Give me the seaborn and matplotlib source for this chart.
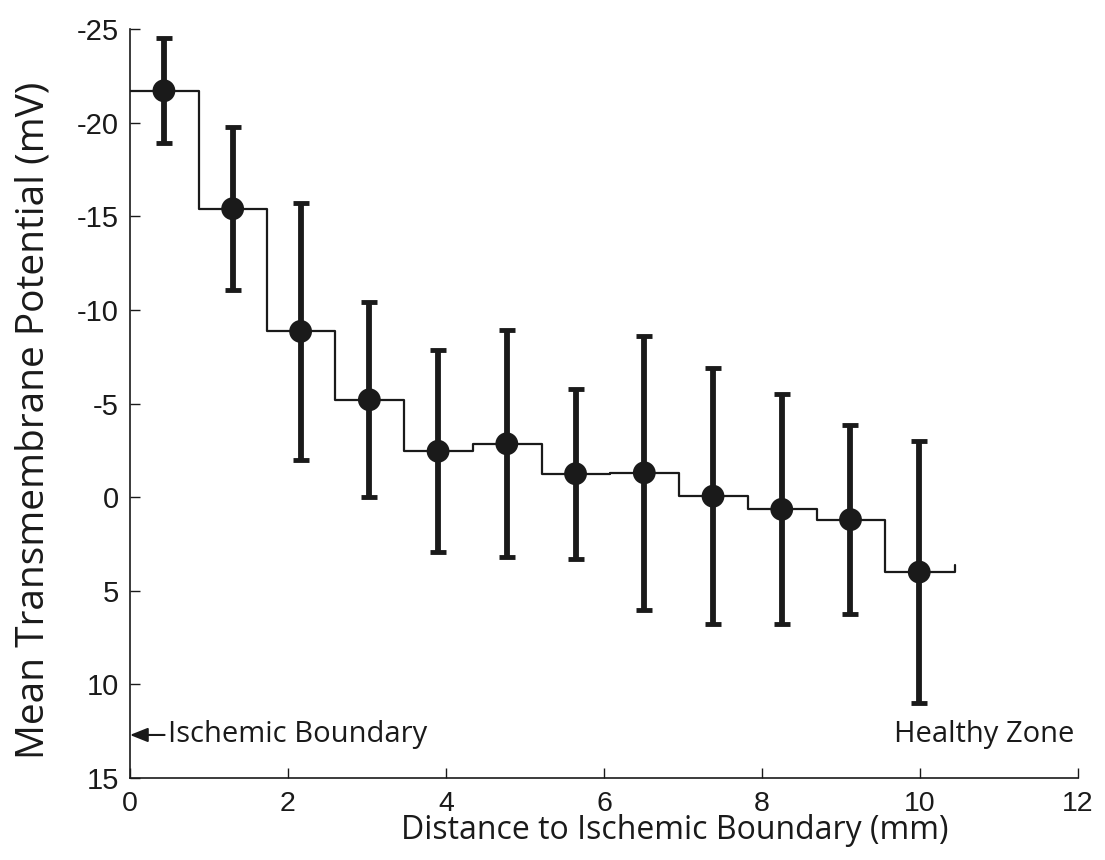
import numpy as np
import pandas as pd
import matplotlib
matplotlib.use("Agg")
import matplotlib.pyplot as plt
import seaborn as sns

# distance bins (mm) and mean transmembrane potential (mV) +/- sd
bin_edges = [0.0, 0.87, 1.73, 2.60, 3.47, 4.34, 5.21, 6.08, 6.95, 7.82, 8.69, 9.56, 10.44]
distance = [0.43, 1.30, 2.16, 3.03, 3.90, 4.77, 5.64, 6.51, 7.38, 8.25, 9.12, 9.99]
mean_tmp = [-21.7, -15.4, -8.85, -5.2, -2.45, -2.85, -1.25, -1.3, -0.05, 0.65, 1.2, 4.0]
sd_tmp = [2.8, 4.35, 6.85, 5.2, 5.4, 6.05, 4.55, 7.3, 6.85, 6.15, 5.05, 7.0]
end_level = 3.6  # little upturn at the end of the stair line

x_ticks = [0, 2, 4, 6, 8, 10, 12]
y_ticks = [-25, -20, -15, -10, -5, 0, 5, 10, 15]

df = pd.DataFrame({"distance": distance, "mean": mean_tmp, "sd": sd_tmp})
stairs = pd.DataFrame({"x": bin_edges, "y": mean_tmp + [end_level]})

sns.set_theme(style="ticks")
plt.rcParams["font.family"] = ["Liberation Sans", "DejaVu Sans"]
plt.rcParams["axes.unicode_minus"] = False

fig = plt.figure(figsize=(11.05, 8.6), dpi=100)
ax = fig.add_axes([0.1176, 0.0953, 0.858, 0.8710])

ink = "#1a1a1a"
sns.lineplot(data=stairs, x="x", y="y", ax=ax, color=ink, lw=1.6,
             drawstyle="steps-post", estimator=None, sort=False)
ax.errorbar(df["distance"], df["mean"], yerr=df["sd"], fmt="none",
            ecolor=ink, elinewidth=4.2, capsize=5.5, capthick=3.5, zorder=3)
sns.scatterplot(data=df, x="distance", y="mean", ax=ax, s=270, color=ink,
                edgecolor="none", zorder=4)

ax.set_xlim(0, 12)
ax.set_ylim(15, -25)
ax.set_xticks(x_ticks)
ax.set_yticks(y_ticks)
ax.tick_params(direction="in", length=7, width=1, colors=ink)
ax.tick_params(axis="x", labelsize=20.5, pad=9)
ax.tick_params(axis="y", labelsize=21, pad=8)
sns.despine(ax=ax)
for s in ["left", "bottom"]:
    ax.spines[s].set_linewidth(1.2)
    ax.spines[s].set_color(ink)

lab_font = ["Open Sans", "DejaVu Sans"]
ax.set_xlabel("Distance to Ischemic Boundary (mm)", fontsize=23, family=lab_font, color=ink)
ax.set_ylabel("Mean Transmembrane Potential (mV)", fontsize=28, family=lab_font, color=ink)
ax.xaxis.set_label_coords(0.575, -0.048)
ax.yaxis.set_label_coords(-0.082, 0.477)

ax.annotate("Ischemic Boundary", xy=(0.0, 12.7), xytext=(0.48, 12.7),
            fontsize=21, family=lab_font, va="center", ha="left", color=ink,
            arrowprops=dict(arrowstyle="-|>,head_length=0.6,head_width=0.24", color=ink,
                            lw=1.5, mutation_scale=18, shrinkA=0, shrinkB=0))
ax.text(11.95, 12.7, "Healthy Zone", fontsize=21, family=lab_font,
        va="center", ha="right", color=ink)

fig.savefig("out.png", dpi=100, facecolor="white")
